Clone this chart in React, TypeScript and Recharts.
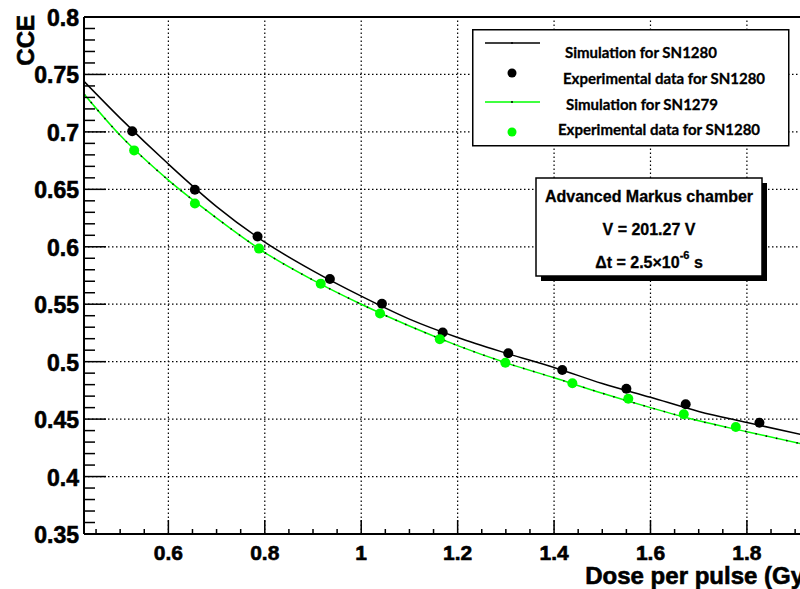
import { ComposedChart, Line, Scatter, XAxis, YAxis, ReferenceLine } from 'recharts';

// simulation curves
const simDose = [0.425, 0.5, 0.6, 0.7, 0.8, 0.9, 1.0, 1.1, 1.2, 1.3, 1.4, 1.5, 1.6, 1.7, 1.8, 1.935];
const simCce1280 = [0.744, 0.712, 0.672, 0.635, 0.604, 0.579, 0.557, 0.537, 0.521, 0.5075, 0.495, 0.481, 0.469, 0.4567, 0.447, 0.4345];
const simCce1279 = [0.733, 0.697, 0.658, 0.625, 0.595, 0.571, 0.55, 0.531, 0.514, 0.499, 0.486, 0.4725, 0.46, 0.4485, 0.439, 0.4265];

// experimental points
const expDose1280 = [0.525, 0.655, 0.785, 0.935, 1.043, 1.169, 1.305, 1.417, 1.55, 1.673, 1.826];
const expCce1280 = [0.7005, 0.6497, 0.609, 0.572, 0.5504, 0.5254, 0.5074, 0.4928, 0.4765, 0.4629, 0.4469];
const expDose1279 = [0.529, 0.655, 0.788, 0.916, 1.039, 1.163, 1.299, 1.438, 1.554, 1.669, 1.777];
const expCce1279 = [0.6839, 0.6377, 0.5984, 0.5679, 0.542, 0.5196, 0.499, 0.4812, 0.4678, 0.4542, 0.4431];

const xMajor = [0.6, 0.8, 1, 1.2, 1.4, 1.6, 1.8];
const yMajor = [0.35, 0.4, 0.45, 0.5, 0.55, 0.6, 0.65, 0.7, 0.75, 0.8];
const xDomain: [number, number] = [0.425, 1.935];
const yDomain: [number, number] = [0.35, 0.8];

const legendItems = [
  { label: 'Simulation for SN1280', kind: 'line', color: '#000000' },
  { label: 'Experimental data for SN1280', kind: 'dot', color: '#000000' },
  { label: 'Simulation for SN1279', kind: 'line', color: '#00ff00' },
  { label: 'Experimental data for SN1280', kind: 'dot', color: '#00ff00' },
];

const toPoints = (xs: number[], ys: number[]) => xs.map((x, i) => ({ x, y: ys[i] }));
const sim1280 = toPoints(simDose, simCce1280);
const sim1279 = toPoints(simDose, simCce1279);
const exp1280 = toPoints(expDose1280, expCce1280);
const exp1279 = toPoints(expDose1279, expCce1279);

// minor ticks: x every 0.05, y every 0.01
const xTicks: number[] = [];
for (let i = 9; i <= 38; i++) xTicks.push(Math.round(i * 5) / 100);
const yTicks: number[] = [];
for (let i = 35; i <= 80; i++) yTicks.push(i / 100);

const FONT = '"Liberation Sans", Arial, Helvetica, sans-serif';
const isMajor = (v: number, list: number[]) => list.some((m) => Math.abs(m - v) < 1e-6);
const fmt = (v: number) => String(Math.round(v * 100) / 100);

const heavy = { fontFamily: FONT, fontWeight: 'bold', fill: '#000', stroke: '#000', strokeWidth: 0.6 } as any;

const XTick = (props: any) => {
  const { x, y, payload } = props;
  const major = isMajor(payload.value, xMajor);
  return (
    <g>
      <line x1={x} x2={x} y1={y} y2={y - (major ? 14 : 5)} stroke="#000" strokeWidth={1.5} />
      {major && (
        <text x={x} y={y + 18} textAnchor="middle" dominantBaseline="central" fontSize={21} {...heavy}>
          {fmt(payload.value)}
        </text>
      )}
    </g>
  );
};

const YTick = (props: any) => {
  const { x, y, payload } = props;
  const major = isMajor(payload.value, yMajor);
  return (
    <g>
      <line x1={x} x2={x + (major ? 22 : 11)} y1={y} y2={y} stroke="#000" strokeWidth={1.5} />
      {major && (
        <text x={x - 5} y={y + 1} textAnchor="end" dominantBaseline="central" fontSize={23} {...heavy}>
          {fmt(payload.value)}
        </text>
      )}
    </g>
  );
};

const XTitle = (props: any) => {
  const vb = props.viewBox || { x: 84, y: 534, width: 728, height: 55 };
  return (
    <text x={vb.x + vb.width} y={vb.y + 50} textAnchor="end" fontSize={24} {...heavy}>
      Dose per pulse (Gy)
    </text>
  );
};

const YTitle = (props: any) => {
  const vb = props.viewBox || { x: 0, y: 17, width: 84, height: 517 };
  const tx = vb.x + 34;
  const ty = vb.y - 2;
  return (
    <text x={tx} y={ty} transform={`rotate(-90 ${tx} ${ty})`} textAnchor="end" fontSize={24} {...heavy}>
      CCE
    </text>
  );
};

const Dot = (color: string) => (p: any) => <circle cx={p.cx} cy={p.cy} r={5} fill={color} />;

const grid = { stroke: '#000', strokeWidth: 1.2, strokeDasharray: '1.5 2.5' };

export default function App() {
  return (
    <div style={{ position: 'absolute', left: 0, top: 0, width: 800, height: 589, overflow: 'hidden', background: '#fff' }}>
      <ComposedChart width={830} height={589} margin={{ top: 17, right: 18, bottom: 0, left: 0 }}>
        <XAxis
          dataKey="x"
          type="number"
          domain={xDomain}
          allowDataOverflow
          ticks={xTicks}
          interval={0}
          tickSize={0}
          tickMargin={0}
          tickLine={false}
          tick={XTick}
          axisLine={{ stroke: '#000', strokeWidth: 2 }}
          height={55}
          label={{ content: XTitle }}
        />
        <YAxis
          type="number"
          domain={yDomain}
          allowDataOverflow
          ticks={yTicks}
          interval={0}
          tickSize={0}
          tickMargin={0}
          tickLine={false}
          tick={YTick}
          axisLine={{ stroke: '#000', strokeWidth: 2 }}
          width={84}
          label={{ content: YTitle }}
        />
        {yMajor.slice(0, -1).map((v) => (
          <ReferenceLine key={'gy' + v} y={v} {...grid} />
        ))}
        {xMajor.map((v) => (
          <ReferenceLine key={'gx' + v} x={v} {...grid} />
        ))}
        <ReferenceLine y={0.8} stroke="#000" strokeWidth={2} />
        <Line data={sim1280} dataKey="y" type="monotone" stroke="#000" strokeWidth={1.5} dot={false} isAnimationActive={false} />
        <Line data={sim1279} dataKey="y" type="monotone" stroke="#00ff00" strokeWidth={1.5} dot={false} isAnimationActive={false} />
        <Line data={sim1279} dataKey="y" type="monotone" stroke="#000" strokeWidth={1.5} strokeDasharray="1.5 9" dot={false} isAnimationActive={false} />
        <Scatter data={exp1280} dataKey="y" shape={Dot('#000')} isAnimationActive={false} />
        <Scatter data={exp1279} dataKey="y" shape={Dot('#00ff00')} isAnimationActive={false} />
      </ComposedChart>

      <svg style={{ position: 'absolute', left: 472, top: 29 }} width={320} height={120}>
        <rect x={0.75} y={0.75} width={316} height={116} fill="#fff" stroke="#000" strokeWidth={1.5} />
        {legendItems.map((it, i) => {
          const rowY = [14, 44, 73, 103][i];
          const textY = [23, 49, 75, 100][i];
          const textX = [93, 91, 94, 86][i];
          return (
            <g key={i}>
              {it.kind === 'line' ? (
                <g>
                  <line x1={13} x2={68} y1={rowY} y2={rowY} stroke={it.color} strokeWidth={1.5} />
                  <circle cx={40} cy={rowY} r={1} fill="#000" />
                </g>
              ) : (
                <circle cx={40} cy={rowY} r={4.5} fill={it.color} />
              )}
              <text x={textX} y={textY} dominantBaseline="central" fontFamily="Lato, sans-serif" fontWeight="bold" fontSize={15} fill="#000" stroke="#000" strokeWidth={0.3}>
                {it.label}
              </text>
            </g>
          );
        })}
      </svg>

      <svg style={{ position: 'absolute', left: 535, top: 177 }} width={240} height={110}>
        <rect x={6} y={6} width={226} height={98} fill="#000" />
        <rect x={1} y={1} width={226} height={98} fill="#fff" stroke="#000" strokeWidth={1.5} />
        <text x={114} y={19} textAnchor="middle" dominantBaseline="central" fontSize={16} {...heavy} strokeWidth={0.3}>
          Advanced Markus chamber
        </text>
        <text x={114} y={52} textAnchor="middle" dominantBaseline="central" fontSize={16} {...heavy} strokeWidth={0.3}>
          V = 201.27 V
        </text>
        <text x={114} y={85} textAnchor="middle" dominantBaseline="central" fontSize={16} {...heavy} strokeWidth={0.3}>
          Δt = 2.5×10<tspan dy={-7} fontSize={11}>-6</tspan><tspan dy={7}> s</tspan>
        </text>
      </svg>
    </div>
  );
}
